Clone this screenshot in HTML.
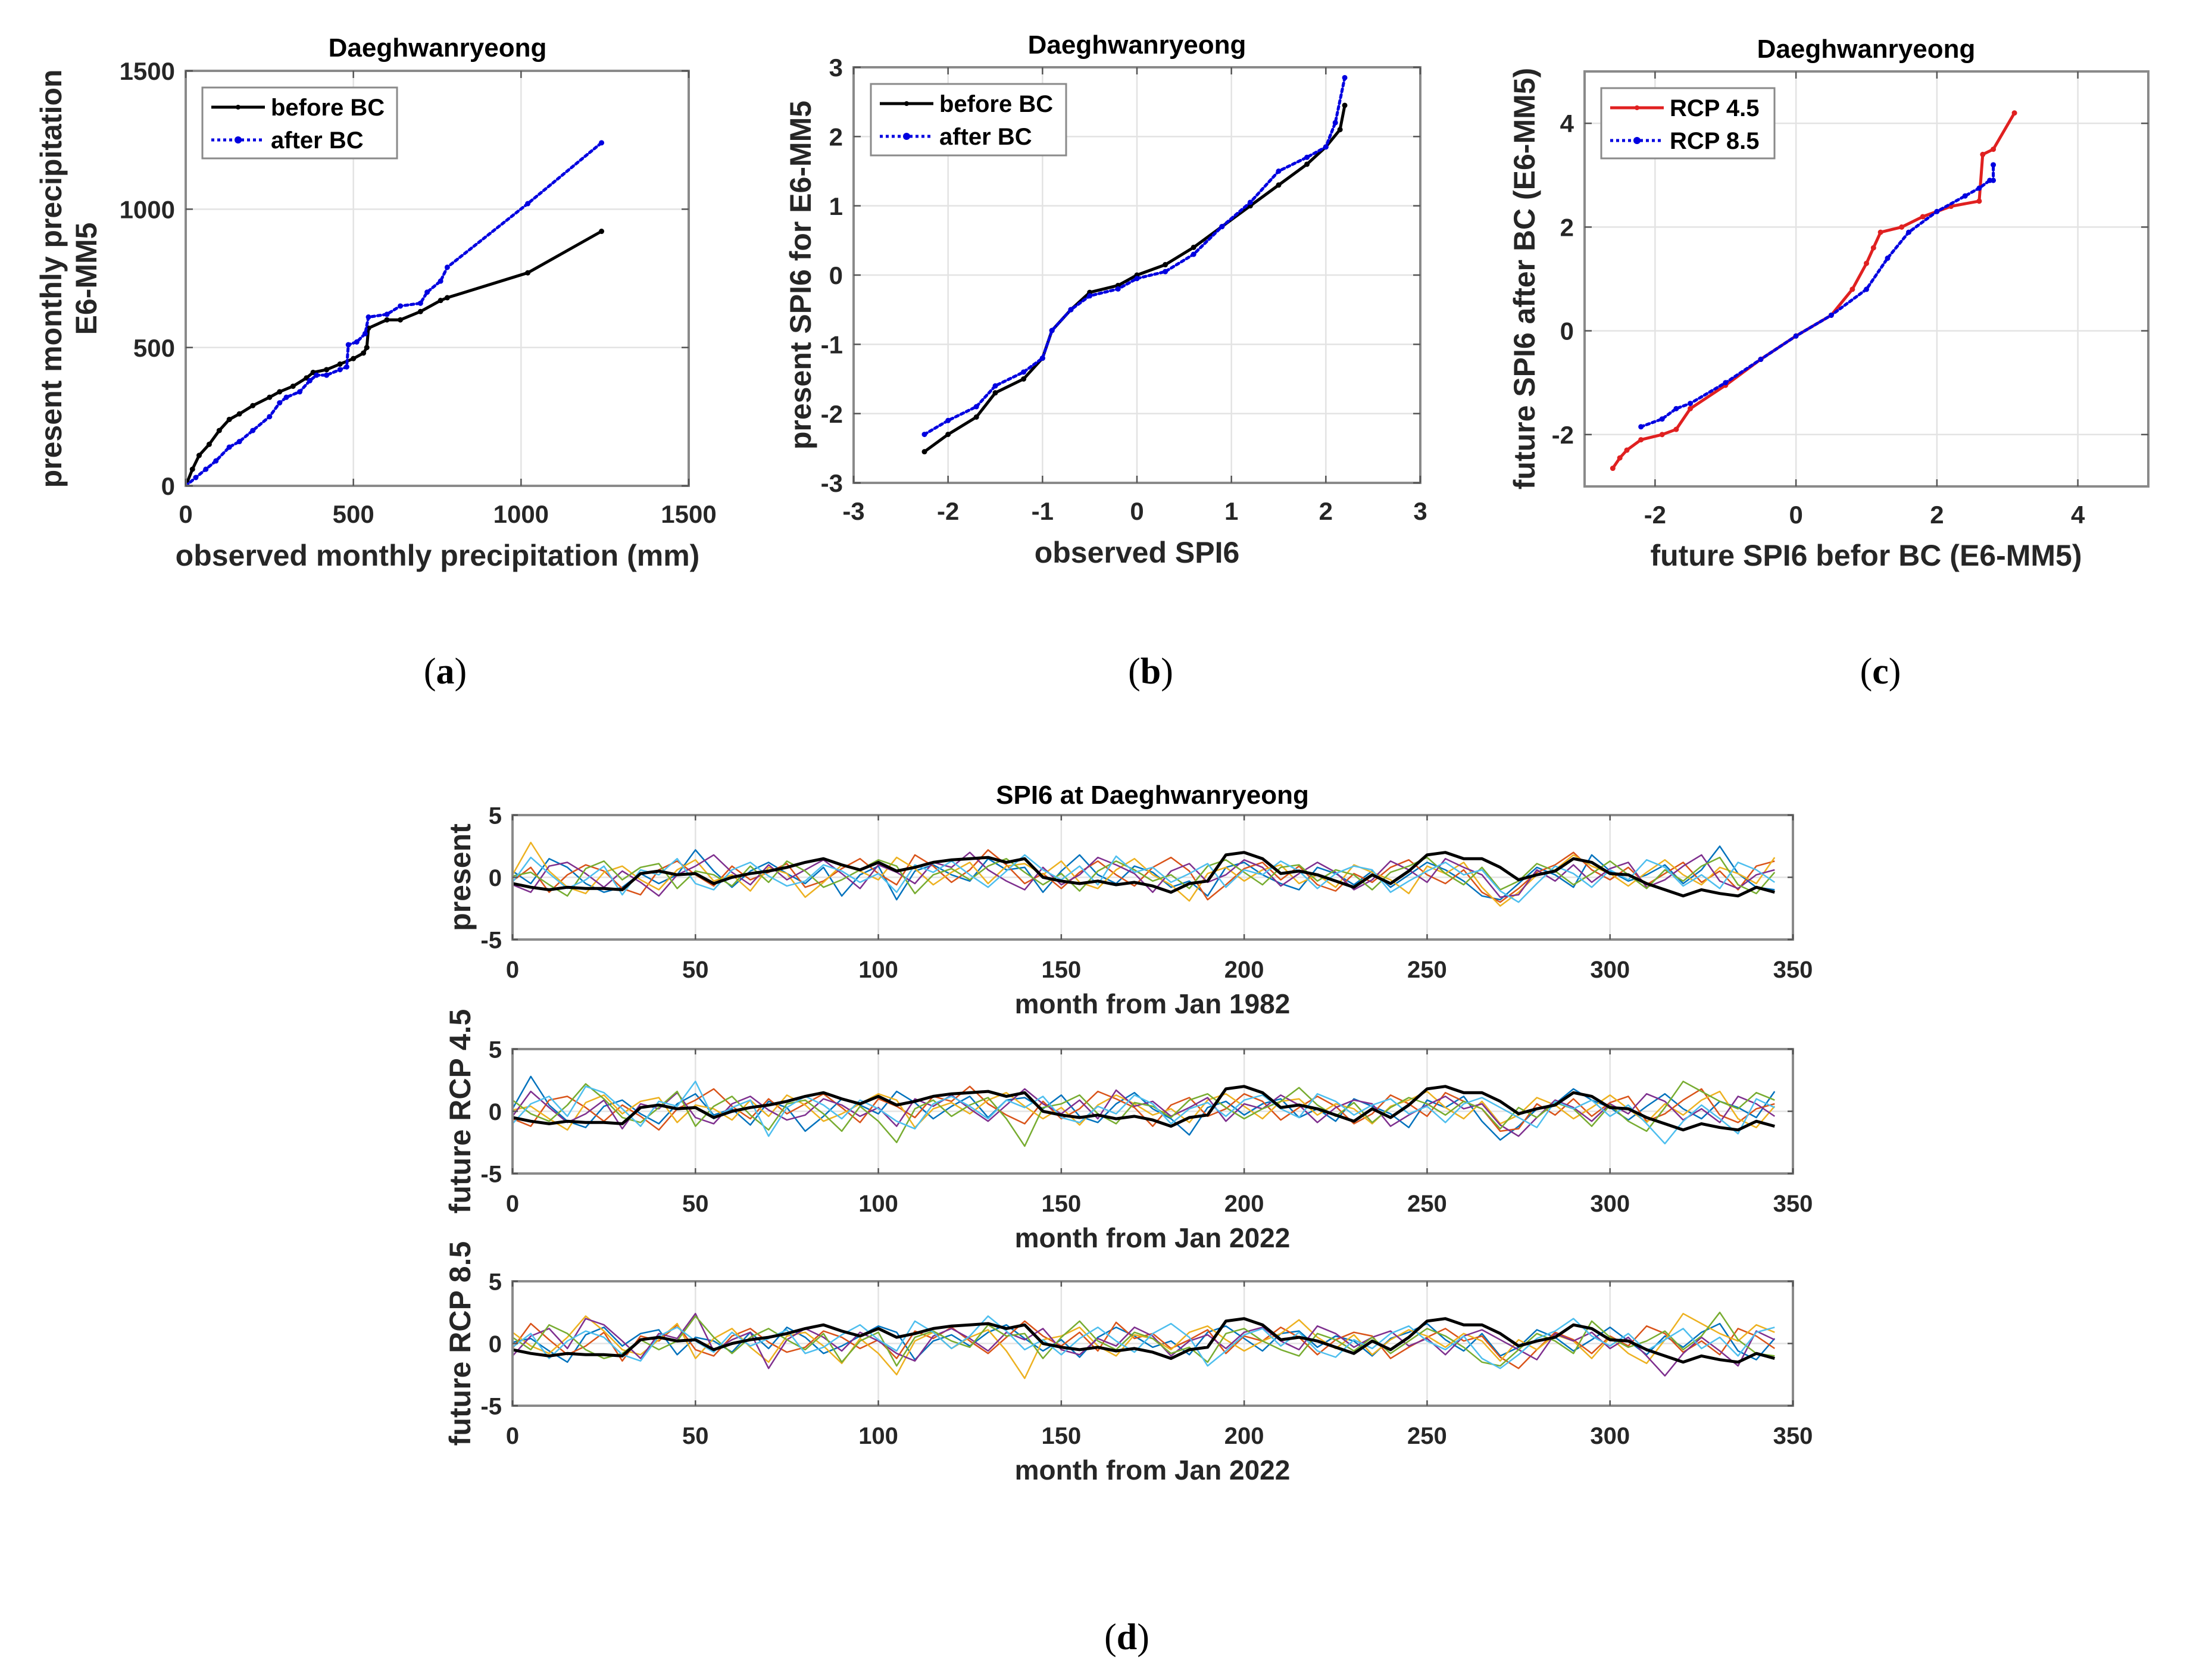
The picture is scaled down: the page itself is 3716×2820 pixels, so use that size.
<!DOCTYPE html>
<html><head><meta charset="utf-8">
<style>
html,body{margin:0;padding:0;background:#fff;}
svg{display:block;font-family:"Liberation Sans",Arial,sans-serif;}
</style></head>
<body>
<svg id="fig" width="3716" height="2820" viewBox="0 0 3716 2820" xmlns="http://www.w3.org/2000/svg">
<rect x="0" y="0" width="3716" height="2820" fill="#fff"/>
</svg>
<script>
// ---------- Panel (a) data ----------
const aBeforeObs = [0,20,40,70,100,130,160,200,250,280,320,360,380,420,460,500,530,540,545,600,640,700,760,780,1020,1240];
const aBeforeMod = [0,60,110,150,200,240,260,290,320,340,360,390,410,420,440,460,480,500,570,600,600,630,670,680,770,920];
const aAfterObs = [0,30,60,90,130,160,200,250,280,300,340,370,390,420,460,480,485,510,535,545,600,640,700,720,760,780,1020,1240];
const aAfterMod = [0,30,60,90,140,160,200,250,300,320,340,380,400,400,420,430,510,520,550,610,620,650,660,700,740,790,1020,1240];
const aTicks = [0,500,1000,1500];
// ---------- Panel (b) data ----------
const bBeforeObs = [-2.25,-2.0,-1.7,-1.5,-1.2,-1.0,-0.9,-0.7,-0.5,-0.2,0,0.3,0.6,0.9,1.2,1.5,1.8,2.0,2.15,2.2];
const bBeforeMod = [-2.55,-2.3,-2.05,-1.7,-1.5,-1.2,-0.8,-0.5,-0.25,-0.15,0,0.15,0.4,0.7,1.0,1.3,1.6,1.85,2.1,2.45];
const bAfterObs = [-2.25,-2.0,-1.7,-1.5,-1.2,-1.0,-0.9,-0.7,-0.5,-0.2,0,0.3,0.6,0.9,1.2,1.5,1.8,2.0,2.1,2.2];
const bAfterMod = [-2.3,-2.1,-1.9,-1.6,-1.4,-1.2,-0.8,-0.5,-0.3,-0.2,-0.05,0.05,0.3,0.7,1.05,1.5,1.7,1.85,2.2,2.85];
const bTicks = [-3,-2,-1,0,1,2,3];
// ---------- Panel (c) data ----------
const c45x = [-2.6,-2.5,-2.4,-2.2,-1.9,-1.7,-1.5,-1.0,-0.5,0,0.5,0.8,1.0,1.1,1.2,1.5,1.8,2.2,2.6,2.65,2.8,3.1];
const c45y = [-2.65,-2.45,-2.3,-2.1,-2.0,-1.9,-1.5,-1.05,-0.55,-0.1,0.3,0.8,1.3,1.6,1.9,2.0,2.2,2.4,2.5,3.4,3.5,4.2];
const c85x = [-2.2,-1.9,-1.7,-1.5,-1.0,-0.5,0,0.5,1.0,1.3,1.6,2.0,2.4,2.6,2.75,2.8,2.8];
const c85y = [-1.85,-1.7,-1.5,-1.4,-1.0,-0.55,-0.1,0.3,0.8,1.4,1.9,2.3,2.6,2.75,2.9,2.9,3.2];
const cXTicks = [-2,0,2,4];
const cYTicks = [-2,0,2,4];
// ---------- Panel (d) data (sampled every 5 months) ----------
const months = [0,5,10,15,20,25,30,35,40,45,50,55,60,65,70,75,80,85,90,95,100,105,110,115,120,125,130,135,140,145,150,155,160,165,170,175,180,185,190,195,200,205,210,215,220,225,230,235,240,245,250,255,260,265,270,275,280,285,290,295,300,305,310,315,320,325,330,335,340,345];
const obsSPI = [-0.5,-0.8,-1,-0.8,-0.9,-0.9,-1,0.3,0.5,0.2,0.3,-0.5,0,0.3,0.5,0.8,1.2,1.5,1.0,0.6,1.2,0.5,0.8,1.2,1.4,1.5,1.6,1.2,1.5,0,-0.3,-0.5,-0.3,-0.6,-0.4,-0.7,-1.2,-0.5,-0.3,1.8,2.0,1.5,0.3,0.5,0.2,-0.3,-0.8,0.2,-0.5,0.5,1.8,2.0,1.5,1.5,0.8,-0.2,0.2,0.5,1.5,1.2,0.3,0.2,-0.5,-1.0,-1.5,-1.0,-1.3,-1.5,-0.8,-1.2];
const ens0 = [0.5,-0.5,1.5,0.8,-0.5,-1.2,-0.8,0.3,-0.5,0.2,2.2,0.5,-0.8,0.5,1.2,0.3,-0.5,0.8,-1.5,0.2,0.9,-1.8,0.5,1.0,0.2,-0.3,1.5,0.6,0.8,-1.2,0.5,1.8,0.2,-0.5,0.9,0.4,-0.8,-0.3,-1.5,0.8,1.2,0.2,-0.5,-1.0,0.8,0.3,-0.6,0.5,-0.8,0.2,1.2,0.6,-0.3,-1.5,-1.8,-0.5,0.8,0.2,-0.8,1.8,0.5,-0.3,0.2,1.0,-0.5,0.6,2.5,0.3,-0.8,-1.0];
const ens1 = [-0.3,0.8,-1.2,0.2,1.0,0.5,-0.9,-1.4,0.6,1.3,0.2,-0.7,0.9,-0.2,0.4,1.1,-0.8,-0.3,0.7,1.5,0.3,-0.6,1.8,0.9,-0.4,0.6,2.2,1.0,-0.5,0.3,-0.9,0.4,1.3,0.2,-0.7,0.8,1.6,0.5,-1.8,-0.6,0.7,1.2,-0.2,0.9,-0.6,-1.1,0.3,-0.4,0.8,1.4,0.2,-0.5,0.6,-1.2,-2.0,-0.9,0.4,1.0,2.0,0.6,-0.2,0.8,-0.6,0.3,1.2,-0.4,0.5,-1.0,0.9,1.3];
const ens2 = [0.2,2.8,0.5,-0.8,-1.3,0.4,0.9,-0.2,-1.0,0.6,1.4,-0.3,0.2,-1.1,0.8,0.3,-1.6,-0.4,1.0,0.5,-0.2,1.6,0.7,-0.6,0.4,1.2,-0.5,0.9,1.1,0.2,1.3,-0.4,-0.9,0.6,1.5,0.2,-0.6,-1.9,0.3,0.8,-0.3,0.6,1.0,-0.5,0.2,-0.8,1.0,0.4,-0.2,-1.3,0.9,0.3,1.2,-0.8,-2.3,-1.2,0.2,0.6,1.8,0.9,0.3,-0.7,0.4,1.4,0.2,-0.6,0.8,0.3,-0.5,1.6];
const ens3 = [-0.6,-1.2,0.9,1.2,0.3,-0.8,0.5,-0.4,-1.5,0.2,0.9,1.8,0.4,-0.6,1.0,-0.2,0.6,1.4,0.3,-0.9,1.0,0.4,-0.5,1.2,0.8,2.0,0.6,-0.3,-1.0,0.8,-0.6,0.2,1.6,1.0,0.3,-1.2,0.5,1.1,-0.4,0.2,1.4,0.8,-0.7,0.3,1.2,0.4,-1.0,-0.2,1.3,0.6,-0.4,1.5,0.8,0.2,-1.6,-1.4,0.6,-0.3,1.0,-0.4,0.7,1.2,-0.8,-0.2,0.9,1.8,-0.3,-0.9,0.2,0.6];
const ens4 = [0.1,0.4,-0.6,-1.5,0.7,1.3,-0.2,0.8,1.1,-0.9,0.5,0.2,-0.7,0.9,-0.4,1.3,0.5,-0.8,-0.2,0.6,1.4,0.9,-1.3,0.2,0.7,-0.2,0.9,1.5,0.4,-0.6,0.3,-1.1,0.5,1.3,0.6,-0.3,0.2,-0.9,0.9,1.4,0.4,-0.6,0.8,1.0,-0.3,0.6,0.2,-1.0,0.4,0.9,1.6,0.3,-0.6,0.8,-1.0,-0.3,1.1,0.5,-0.6,0.3,1.3,0.2,-0.9,0.6,-0.3,0.9,1.6,-0.6,-1.3,0.4];
const ens5 = [-0.4,1.6,0.3,-0.9,-0.2,0.9,-1.4,0.6,0.2,1.5,-0.5,-1.0,0.6,1.2,0.1,-0.7,-0.3,1.0,0.5,-0.4,0.3,-1.2,1.0,0.4,1.3,0.2,-0.8,0.5,1.8,0.6,-0.2,0.9,-0.6,1.7,0.4,0.8,-0.4,0.3,1.1,-0.8,0.6,0.2,1.3,0.5,-0.9,0.3,0.9,0.6,-1.2,-0.3,0.5,1.2,0.2,0.6,-1.1,-2.0,-0.5,0.9,0.3,-0.8,0.6,-0.2,1.4,0.8,-0.7,0.2,-0.9,1.2,0.6,-0.4];
const ens6 = [0.9,-0.2,-0.8,0.5,2.2,1.0,-0.5,-0.9,0.3,1.6,-1.2,0.4,1.2,-0.3,-1.5,0.6,0.9,-0.2,-1.6,0.4,-0.8,-2.5,0.2,0.9,-0.4,0.5,1.1,-0.6,-2.8,0.3,0.6,1.3,-0.2,-1.0,0.7,0.4,-0.5,0.9,1.4,0.3,-0.6,0.2,0.8,1.9,0.5,-0.4,0.7,-0.9,0.3,1.1,0.6,-0.3,0.8,0.2,-1.4,0.3,-0.5,0.7,0.2,-1.2,0.5,-0.8,-1.6,0.3,2.4,1.6,0.8,0.2,1.5,0.9];
const ens7 = [-1.0,0.6,1.2,-0.4,2.0,1.5,0.2,-1.2,0.8,0.4,2.4,-0.6,0.3,0.9,-2.0,0.3,1.2,0.5,-0.6,0.9,0.2,-0.8,-1.4,0.6,1.2,0.4,-0.6,0.9,0.3,1.2,-0.5,-0.9,0.4,-0.2,1.3,0.6,-1.0,0.2,0.7,-0.4,0.9,1.3,0.2,-0.5,1.4,0.8,-0.3,0.5,1.0,-0.2,0.4,-0.9,0.6,1.1,0.3,-0.5,-1.3,0.8,0.2,0.9,-0.4,0.5,-1.0,-2.6,-0.8,0.5,-0.6,-1.8,1.0,0.3];
const dTicksX = [0,50,100,150,200,250,300,350];
const dTicksY = [-5,0,5];

const NS = "http://www.w3.org/2000/svg";
const svg = document.getElementById('fig');
function el(tag, attrs, parent, text){
  const e = document.createElementNS(NS, tag);
  for (const k in attrs) e.setAttribute(k, attrs[k]);
  if (text !== undefined) e.textContent = text;
  (parent || svg).appendChild(e);
  return e;
}
function scale(d0,d1,r0,r1){ return v => r0 + (v-d0)/(d1-d0)*(r1-r0); }

function axesBox(g, L,T,R,B, sx, sy, xt, yt){
  const grid = el('g',{},g);
  
  
  xt.forEach(v=>{ const x=sx(v); if(x>L+1&&x<R-1) el('line',{x1:x,x2:x,y1:T,y2:B,stroke:'#e3e3e3','stroke-width':2.5},grid); });
  yt.forEach(v=>{ const y=sy(v); if(y>T+1&&y<B-1) el('line',{x1:L,x2:R,y1:y,y2:y,stroke:'#e3e3e3','stroke-width':2.5},grid); });
}
function axesFrame(g, L,T,R,B, sx, sy, xt, yt, fs, tickLen, xlabOff){
  const fr = el('rect',{x:L,y:T,width:R-L,height:B-T,fill:'none',stroke:'#8a8a8a','stroke-width':4},g);
  
  
  const xg = el('g',{},g);
  
  
  xt.forEach((v)=>{ const x=sx(v);
    el('line',{x1:x,x2:x,y1:B,y2:B-tickLen,stroke:'#555','stroke-width':2.5},xg);
    el('line',{x1:x,x2:x,y1:T,y2:T+tickLen,stroke:'#555','stroke-width':2.5},xg);
    el('text',{x:x,y:B+xlabOff,'text-anchor':'middle','font-size':fs,'font-weight':'bold',fill:'#262626'},xg,String(v));
  });
  const yg = el('g',{},g);
  
  
  yt.forEach((v)=>{ const y=sy(v);
    el('line',{x1:L,x2:L+tickLen,y1:y,y2:y,stroke:'#555','stroke-width':2.5},yg);
    el('line',{x1:R,x2:R-tickLen,y1:y,y2:y,stroke:'#555','stroke-width':2.5},yg);
    el('text',{x:L-18,y:y+fs*0.36,'text-anchor':'end','font-size':fs,'font-weight':'bold',fill:'#262626'},yg,String(v));
  });
}
function poly(g, xs, ys, sx, sy, color, w, dash, name){
  const pts = xs.map((x,i)=>sx(x).toFixed(1)+','+sy(ys[i]).toFixed(1)).join(' ');
  const p = el('polyline',{points:pts,fill:'none',stroke:color,'stroke-width':w,'stroke-linejoin':'round','stroke-linecap':'round'},g);
  if (dash) p.setAttribute('stroke-dasharray',dash);
  
  
  xs.forEach((x,i)=>{ el('circle',{cx:sx(x),cy:sy(ys[i]),r:w*0.9,fill:color},g); });
  return p;
}
function legend(g, x, y, w, h, items){
  const lg = el('g',{},g);
  
  
  el('rect',{x:x,y:y,width:w,height:h,fill:'#fff',stroke:'#8a8a8a','stroke-width':3},lg);
  items.forEach((it,i)=>{
    const ent = el('g',{},lg);
    
    
    const cy = y + 33 + i*55;
    const ln = el('line',{x1:x+15,x2:x+105,y1:cy,y2:cy,stroke:it.c,'stroke-width':5},ent);
    if (it.dash) ln.setAttribute('stroke-dasharray','5,5');
    el('circle',{cx:x+60,cy:cy,r:it.dash?6:4,fill:it.c},ent);
    el('text',{x:x+115,y:cy+14,'font-size':40,'font-weight':'bold',fill:'#000'},ent,it.t);
  });
}
function title(txt, x, y, fs, name){
  const t = el('text',{x:x,y:y,'text-anchor':'middle','font-size':fs,'font-weight':'bold',fill:'#000'},svg,txt);
  
  
}
function rotLabel(txt, x, y, fs, name){
  const t = el('text',{x:x,y:y,'text-anchor':'middle','font-size':fs,'font-weight':'bold',fill:'#262626',transform:`rotate(-90 ${x} ${y})`},svg,txt);
  
  
}
function label(txt,x,y,fs,name){
  const t = el('text',{x:x,y:y,'text-anchor':'middle','font-size':fs,'font-weight':'bold',fill:'#262626'},svg,txt);
  
  
}
function subLabel(letter,x,y,name){
  const t = el('text',{x:x,y:y,'text-anchor':'middle','font-size':62,fill:'#000','font-family':'"Liberation Serif",serif'},svg);
  
  
  el('tspan',{},t,'(');
  el('tspan',{'font-weight':'bold'},t,letter);
  el('tspan',{},t,')');
}

// ---------- Panel (a) ----------
{
  const L=312,T=119,R=1157,B=816;
  const sx=scale(0,1500,L,R), sy=scale(0,1500,B,T);
  const g=el('g',{});
  
  
  axesBox(g,L,T,R,B,sx,sy,aTicks,aTicks);
  const cp = el('clipPath',{id:'ca'},g); el('rect',{x:L,y:T,width:R-L,height:B-T},cp);
  const dg = el('g',{'clip-path':'url(#ca)'},g);
  poly(dg,aBeforeObs,aBeforeMod,sx,sy,'#000',5,null,'before-bc-line');
  poly(dg,aAfterObs,aAfterMod,sx,sy,'#0000e0',5,'5,5','after-bc-line');
  axesFrame(g,L,T,R,B,sx,sy,aTicks,aTicks,42,12,62);
  legend(g,340,147,327,119,[{t:'before BC',c:'#000'},{t:'after BC',c:'#0000e0',dash:true}]);
  title('Daeghwanryeong',735,95,44,'panel-a-title');
  rotLabel('present monthly precipitation',103,468,50,'panel-a-y-axis-title');
  rotLabel('E6-MM5',162,468,50,'panel-a-y-axis-title-2');
  label('observed monthly precipitation (mm)',735,950,50,'panel-a-x-axis-title');
  subLabel('a',748,1148,'panel-a-label');
}
// ---------- Panel (b) ----------
{
  const L=1434,T=113,R=2386,B=811;
  const sx=scale(-3,3,L,R), sy=scale(-3,3,B,T);
  const g=el('g',{});
  
  
  axesBox(g,L,T,R,B,sx,sy,bTicks,bTicks);
  const cp = el('clipPath',{id:'cb'},g); el('rect',{x:L,y:T,width:R-L,height:B-T},cp);
  const dg = el('g',{'clip-path':'url(#cb)'},g);
  poly(dg,bBeforeObs,bBeforeMod,sx,sy,'#000',5,null,'before-bc-line');
  poly(dg,bAfterObs,bAfterMod,sx,sy,'#0000e0',5,'5,5','after-bc-line');
  axesFrame(g,L,T,R,B,sx,sy,bTicks,bTicks,42,12,62);
  legend(g,1463,141,328,120,[{t:'before BC',c:'#000'},{t:'after BC',c:'#0000e0',dash:true}]);
  title('Daeghwanryeong',1910,90,44,'panel-b-title');
  rotLabel('present SPI6 for E6-MM5',1362,462,50,'panel-b-y-axis-title');
  label('observed SPI6',1910,945,50,'panel-b-x-axis-title');
  subLabel('b',1933,1148,'panel-b-label');
}
// ---------- Panel (c) ----------
{
  const L=2662,T=120,R=3609,B=817;
  const sx=scale(-3,5,L,R), sy=scale(-3,5,B,T);
  const g=el('g',{});
  
  
  axesBox(g,L,T,R,B,sx,sy,cXTicks,cYTicks);
  const cp = el('clipPath',{id:'cc'},g); el('rect',{x:L,y:T,width:R-L,height:B-T},cp);
  const dg = el('g',{'clip-path':'url(#cc)'},g);
  poly(dg,c45x,c45y,sx,sy,'#e02020',5,null,'rcp45-line');
  poly(dg,c85x,c85y,sx,sy,'#0000e0',5,'5,5','rcp85-line');
  axesFrame(g,L,T,R,B,sx,sy,cXTicks,cYTicks,42,12,62);
  legend(g,2690,148,291,118,[{t:'RCP 4.5',c:'#e02020'},{t:'RCP 8.5',c:'#0000e0',dash:true}]);
  title('Daeghwanryeong',3135,97,44,'panel-c-title');
  rotLabel('future SPI6 after BC (E6-MM5)',2578,468,50,'panel-c-y-axis-title');
  label('future SPI6 befor BC (E6-MM5)',3135,950,50,'panel-c-x-axis-title');
  subLabel('c',3159,1148,'panel-c-label');
}
// ---------- Panel (d) ----------
const mlColors = ['#0072BD','#D95319','#EDB120','#7E2F8E','#77AC30','#4DBEEE'];
const ensAll = [ens0,ens1,ens2,ens3,ens4,ens5,ens6,ens7];
const dPanels = [
  {T:1369,B:1578,yl:'present',xl:'month from Jan 1982',ens:[0,1,2,3,4,5]},
  {T:1762,B:1971,yl:'future RCP 4.5',xl:'month from Jan 2022',ens:[2,3,4,5,6,7]},
  {T:2152,B:2361,yl:'future RCP 8.5',xl:'month from Jan 2022',ens:[4,5,6,7,0,1]}
];
dPanels.forEach((p,pi)=>{
  const L=861,R=3012,T=p.T,B=p.B;
  const sx=scale(0,350,L,R), sy=scale(-5,5,B,T);
  const g=el('g',{});
  
  
  axesBox(g,L,T,R,B,sx,sy,dTicksX,dTicksY);
  const cp = el('clipPath',{id:'cd'+pi},g); el('rect',{x:L,y:T,width:R-L,height:B-T},cp);
  const dg = el('g',{'clip-path':'url(#cd'+pi+')'},g);
  p.ens.forEach((ei,k)=>{
    const pts = months.map((m,i)=>sx(m).toFixed(1)+','+sy(ensAll[ei][i]).toFixed(1)).join(' ');
    const pl = el('polyline',{points:pts,fill:'none',stroke:mlColors[k],'stroke-width':2.5,'stroke-linejoin':'round'},dg);
    
    
  });
  const bpts = months.map((m,i)=>sx(m).toFixed(1)+','+sy(obsSPI[i]).toFixed(1)).join(' ');
  const bl = el('polyline',{points:bpts,fill:'none',stroke:'#000','stroke-width':5,'stroke-linejoin':'round'},dg);
  
  
  axesFrame(g,L,T,R,B,sx,sy,dTicksX,dTicksY,40,9,64);
  rotLabel(p.yl,790,(T+B)/2,50,'panel-d-y-axis-title-'+(pi+1));
  label(p.xl,1936,B+124,46,'panel-d-x-axis-title-'+(pi+1));
});
title('SPI6 at Daeghwanryeong',1936,1350,44,'panel-d-title');
subLabel('d',1893,2770,'panel-d-label');
</script>
</body></html>
